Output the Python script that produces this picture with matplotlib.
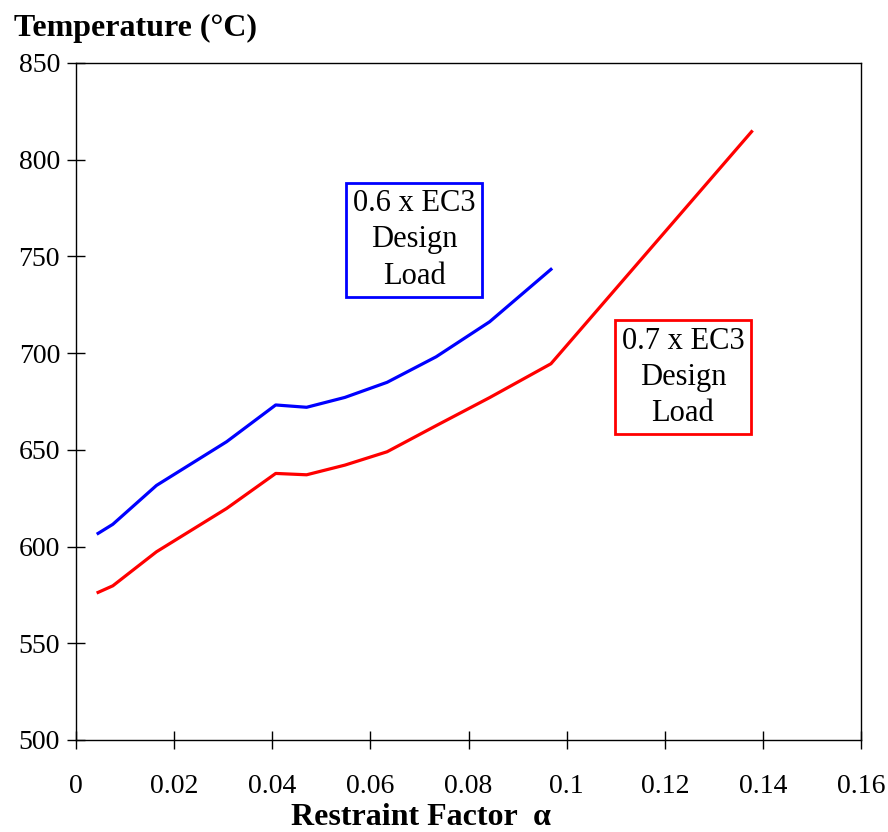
import matplotlib.pyplot as plt

plt.rcParams['font.family'] = ['Liberation Serif', 'DejaVu Serif']

# restraint factor vs. critical temperature for two load ratios
alpha_06 = [0.0045, 0.0075, 0.0164, 0.0307, 0.0407, 0.0470, 0.0548, 0.0634, 0.0734, 0.0843, 0.0968]
temp_06 = [606.8, 611.5, 631.6, 654.2, 673.2, 672.0, 677.1, 684.9, 698.1, 716.2, 743.3]

alpha_07 = [0.0045, 0.0075, 0.0164, 0.0307, 0.0407, 0.0470, 0.0548, 0.0634, 0.0734, 0.0843, 0.0968, 0.1377]
temp_07 = [576.3, 579.7, 597.3, 619.7, 637.8, 637.1, 642.1, 649.0, 662.5, 677.0, 694.5, 814.5]

xticks = [0, 0.02, 0.04, 0.06, 0.08, 0.1, 0.12, 0.14, 0.16]
xtick_labels = ['0', '0.02', '0.04', '0.06', '0.08', '0.1', '0.12', '0.14', '0.16']
yticks = [500, 550, 600, 650, 700, 750, 800, 850]

fig = plt.figure(figsize=(8.88, 8.32), dpi=100)
ax = fig.add_axes([0.0856, 0.1106, 0.884, 0.8137])

ax.plot(alpha_06, temp_06, color='#0000ff', lw=2.3)
ax.plot(alpha_07, temp_07, color='#ff0000', lw=2.3)

ax.set_xlim(0, 0.16)
ax.set_ylim(500, 850)
ax.set_xticks(xticks)
ax.set_xticklabels(xtick_labels)
ax.set_yticks(yticks)
ax.tick_params(direction='inout', length=13, width=1, labelsize=20, pad=5)
ax.tick_params(axis='x', pad=18)
for s in ax.spines.values():
    s.set_linewidth(1)

box_kw = dict(ha='center', va='center', fontsize=22, linespacing=1.32)
ax.text(0.0689, 758.5, '0.6 x EC3\nDesign\nLoad', **box_kw,
        bbox=dict(boxstyle='square,pad=0.22', fc='white', ec='#0000ff', lw=2))
ax.text(0.1237, 687.6, '0.7 x EC3\nDesign\nLoad', **box_kw,
        bbox=dict(boxstyle='square,pad=0.22', fc='white', ec='#ff0000', lw=2))

fig.text(0.016, 0.966, 'Temperature (\u00b0C)', fontsize=23, fontweight='bold',
         ha='left', va='center')
fig.text(0.474, 0.018, 'Restraint Factor  \u03b1', fontsize=23, fontweight='bold',
         ha='center', va='center')

fig.savefig('out.png', dpi=100)
